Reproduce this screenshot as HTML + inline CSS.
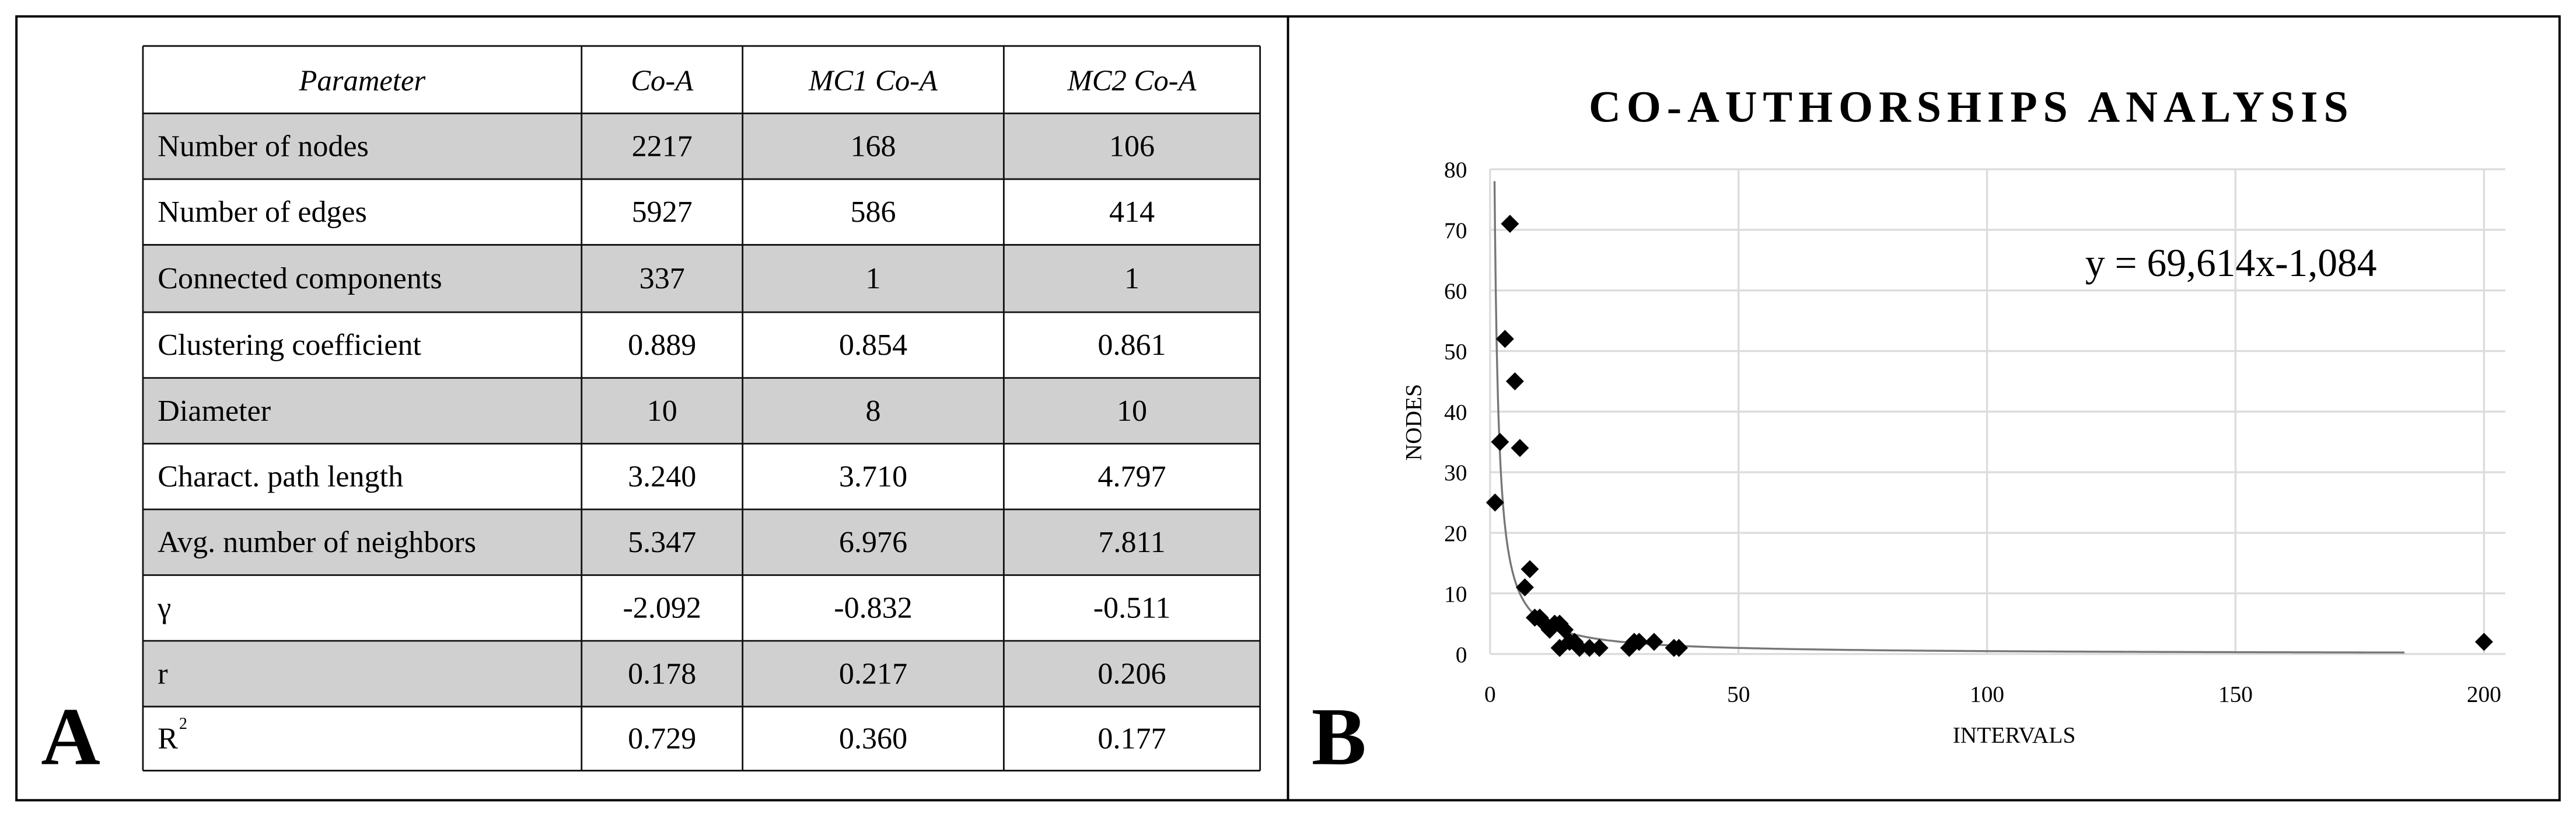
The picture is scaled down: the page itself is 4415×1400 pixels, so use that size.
<!DOCTYPE html>
<html><head><meta charset="utf-8"><style>
html,body{margin:0;padding:0;background:#fff;}
svg{display:block;}
text{font-family:"Liberation Serif",serif;}
</style></head><body>
<svg id="fig" width="4415" height="1400" viewBox="0 0 1568 497.2" preserveAspectRatio="none">
<rect x="10" y="10" width="1548" height="477" fill="none" stroke="#000" stroke-width="1.4"/>
<line x1="784" y1="10" x2="784" y2="487" stroke="#000" stroke-width="1.4"/>
<g id="table"></g>
<text x="43" y="465" font-size="50" font-weight="bold" text-anchor="middle">A</text>
<text x="815" y="465" font-size="50" font-weight="bold" text-anchor="middle">B</text>
<text x="1200" y="74" font-size="27" font-weight="bold" text-anchor="middle" letter-spacing="3.5">CO-AUTHORSHIPS ANALYSIS</text>
<g id="chart"></g>
<text x="1358" y="168" font-size="24" text-anchor="middle">y = 69,614x-1,084</text>
<text x="1226" y="452" font-size="14" text-anchor="middle">INTERVALS</text>
<text x="0" y="0" font-size="14" text-anchor="middle" transform="translate(865,257) rotate(-90)">NODES</text>
</svg>
<script>
// Table data
const headers = ["Parameter","Co-A","MC1 Co-A","MC2 Co-A"];
const rowLabels = ["Number of nodes","Number of edges","Connected components","Clustering coefficient","Diameter","Charact. path length","Avg. number of neighbors","γ","r","R"];
const colCoA = ["2217","5927","337","0.889","10","3.240","5.347","-2.092","0.178","0.729"];
const colMC1 = ["168","586","1","0.854","8","3.710","6.976","-0.832","0.217","0.360"];
const colMC2 = ["106","414","1","0.861","10","4.797","7.811","-0.511","0.206","0.177"];

// Chart data
const xVals = [1,2,3,4,5,6,7,8,9,10,11,12,13,14,14,15,16,17,18,20,22,28,29,30,33,37,38,200];
const yVals = [25,35,52,71,45,34,11,14,6,6,5,4,5,5,1,4,2,2,1,1,1,1,2,2,2,1,1,2];
const xTicks = [0,50,100,150,200];
const yTicks = [0,10,20,30,40,50,60,70,80];
const trendA = 69.614, trendB = -1.084;

const NS="http://www.w3.org/2000/svg";
function mk(tag,attrs,parent,txt){const e=document.createElementNS(NS,tag);for(const k in attrs)e.setAttribute(k,attrs[k]);if(txt!==undefined)e.textContent=txt;parent.appendChild(e);return e;}

// ---- table ----
const tg=document.getElementById('table');
const colX=[87,354,452,611,767];
const rowY=[28,69,109,149,190,230,270,310,350,390,430,469];
for(let i=0;i<rowLabels.length;i++){
  if(i%2===0){
    const r=mk('rect',{x:87,y:rowY[i+1],width:680,height:rowY[i+2]-rowY[i+1],fill:'#d0d0d0'},tg);
    
    
  }
}
for(const y of rowY){const l=mk('line',{x1:87,x2:767,y1:y,y2:y,stroke:'#111','stroke-width':1},tg);}
for(const x of colX){const l=mk('line',{x1:x,x2:x,y1:28,y2:469,stroke:'#111','stroke-width':1},tg);}
headers.forEach((h,j)=>{
  const t=mk('text',{x:(colX[j]+colX[j+1])/2,y:55,'font-size':18,'font-style':'italic','text-anchor':'middle'},tg,h);
  
  
});
rowLabels.forEach((lab,i)=>{
  const cy=(rowY[i+1]+rowY[i+2])/2+6;
  const t=mk('text',{x:96,y:cy,'font-size':18.5},tg,lab);
  
  
  if(lab==="R"){const s=mk('text',{x:109,y:cy-12,'font-size':10},tg,'2');}
  [colCoA,colMC1,colMC2].forEach((col,j)=>{
    const c=mk('text',{x:(colX[j+1]+colX[j+2])/2,y:cy,'font-size':18.5,'text-anchor':'middle'},tg,col[i]);
    
    
  });
});

// ---- chart ----
const cg=document.getElementById('chart');
const X0=907,X1=1512,Y0=398,Y1=103;
const sx=v=>X0+(v-0)/(200-0)*(X1-X0);
const sy=v=>Y0-(v-0)/(80-0)*(Y0-Y1);
yTicks.forEach(t=>{
  const l=mk('line',{x1:sx(0),x2:1525,y1:sy(t),y2:sy(t),stroke:'#dcdcdc','stroke-width':1.2},cg);
  
  const tx=mk('text',{x:893,y:sy(t)+5,'font-size':14,'text-anchor':'end'},cg,String(t));
  
});
xTicks.forEach(t=>{
  const l=mk('line',{x1:sx(t),x2:sx(t),y1:Y1,y2:Y0,stroke:'#dcdcdc','stroke-width':1.2},cg);
  
  const tx=mk('text',{x:sx(t),y:427,'font-size':14,'text-anchor':'middle'},cg,String(t));
  
});
// trendline
let d='';
for(let x=0.85;x<=185;x+=(x<20?0.05:1)){
  let y=trendA*Math.pow(x,trendB); if(y>80)continue;
  d+=(d?'L':'M')+sx(x).toFixed(2)+','+sy(y).toFixed(2);
}
const tl=mk('path',{d:d,fill:'none',stroke:'#777','stroke-width':1.2},cg);

// points
xVals.forEach((xv,i)=>{
  const cx=sx(xv),cy=sy(yVals[i]),r=5.5;
  const p=mk('polygon',{points:`${cx},${cy-r} ${cx+r},${cy} ${cx},${cy+r} ${cx-r},${cy}`,fill:'#000'},cg);
  
  
});
</script>
</body></html>
